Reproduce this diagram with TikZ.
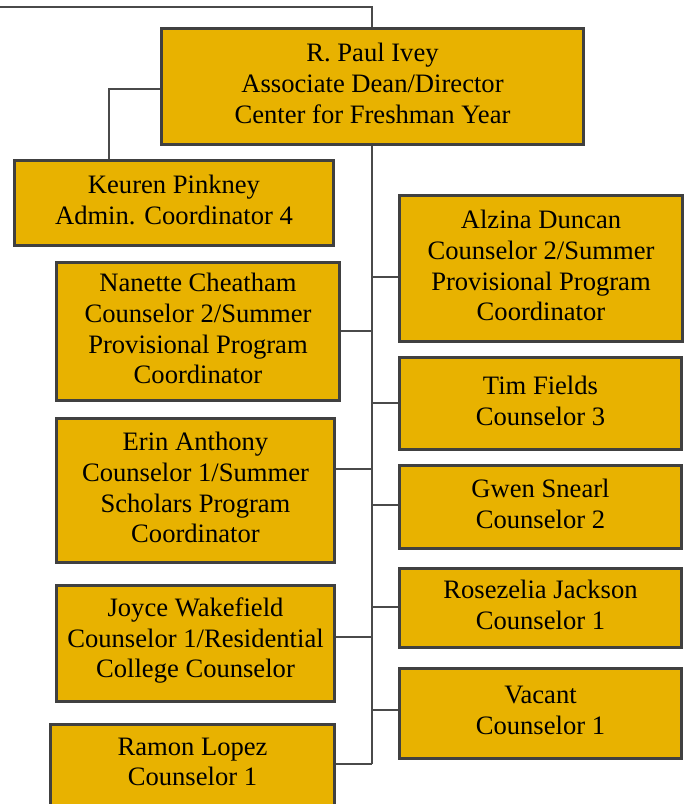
\documentclass[tikz,border=0pt]{standalone}
\usepackage{fontspec}
\setmainfont{Liberation Serif}
\definecolor{boxfill}{HTML}{E8B200}
\definecolor{boxedge}{HTML}{404040}
\definecolor{wire}{HTML}{4A4A4A}
\begin{document}
\begin{tikzpicture}[x=1pt,y=-1pt,
  orgbox/.style={draw=boxedge, line width=3pt, fill=boxfill, rectangle, inner sep=0pt},
  orgtext/.style={align=center, inner sep=0pt, font=\fontsize{26.6}{30.8}\selectfont},
  wireline/.style={draw=wire, line width=2pt}]
\useasboundingbox (0,0) rectangle (689,804);
\newcommand{\obox}[6]{% name, x1, y1, x2, y2, text
  \node[orgbox, minimum width={#4-#2-3}, minimum height={#5-#3-3}] (#1) at ({(#2+#4)/2},{(#3+#5)/2}) {};
  \node[orgtext] (#1-text) at ([yshift=3pt]#1.center) {#6};}
\obox{ivey}{160}{27}{585}{146}{R. Paul Ivey\\Associate Dean/Director\\Center for Freshman Year}
\obox{pinkney}{13}{159}{335}{247}{Keuren Pinkney\\Admin. Coordinator 4}
\obox{nanette}{55}{261}{341}{402}{Nanette Cheatham\\Counselor 2/Summer\\Provisional Program\\Coordinator}
\obox{erin}{55}{417}{336}{564}{Erin Anthony\\Counselor 1/Summer\\Scholars Program\\Coordinator}
\obox{joyce}{55}{584}{336}{703}{Joyce Wakefield\\Counselor 1/Residential\\College Counselor}
\obox{ramon}{49}{723}{336}{807}{Ramon Lopez\\Counselor 1}
\obox{alzina}{398}{194}{684}{343}{Alzina Duncan\\Counselor 2/Summer\\Provisional Program\\Coordinator}
\obox{tim}{398}{356}{683}{451}{Tim Fields\\Counselor 3}
\obox{gwen}{398}{464}{683}{550}{Gwen Snearl\\Counselor 2}
\obox{rose}{398}{567}{683}{649}{Rosezelia Jackson\\Counselor 1}
\obox{vacant}{398}{667}{683}{760}{Vacant\\Counselor 1}
\coordinate (topleft) at (0,7);
\coordinate (trunk) at (372,0);
\coordinate (pk) at (109,0);
% top line
\draw[wireline] (topleft) -| (trunk |- ivey.north);
% to Pinkney
\draw[wireline] (ivey.west |- 0,89) -| (pk |- pinkney.north);
% trunk
\draw[wireline] (trunk |- ivey.south) -- (trunk |- 0,764);
% branches
\draw[wireline] (trunk |- 0,277) -- (alzina.west |- 0,277);
\draw[wireline] (trunk |- 0,331) -- (nanette.east |- 0,331);
\draw[wireline] (trunk |- 0,403) -- (tim.west |- 0,403);
\draw[wireline] (trunk |- 0,469) -- (erin.east |- 0,469);
\draw[wireline] (trunk |- 0,505) -- (gwen.west |- 0,505);
\draw[wireline] (trunk |- 0,607) -- (rose.west |- 0,607);
\draw[wireline] (trunk |- 0,637) -- (joyce.east |- 0,637);
\draw[wireline] (trunk |- 0,710) -- (vacant.west |- 0,710);
\draw[wireline] (trunk |- 0,764) -- (ramon.east |- 0,764);
\end{tikzpicture}
\end{document}
